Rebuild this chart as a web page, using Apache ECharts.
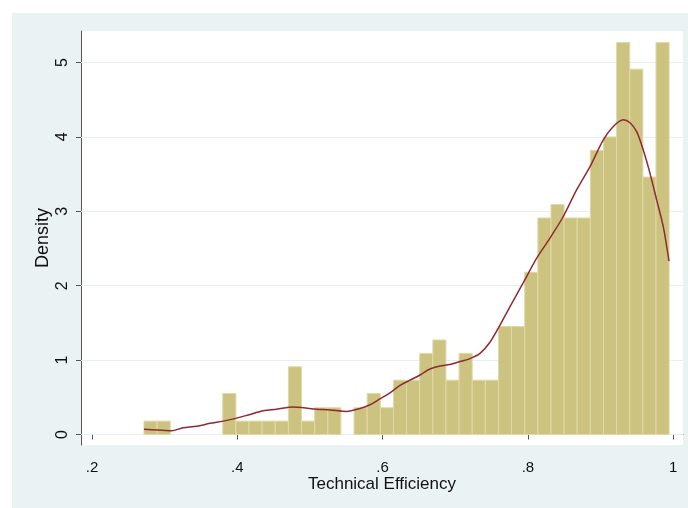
<!DOCTYPE html>
<html>
<head>
    <meta charset="utf-8" />
    <title>Technical Efficiency histogram</title>
    <script src="https://cdn.jsdelivr.net/npm/echarts@6/dist/echarts.min.js"></script>
    <style>
        body { margin: 0; background: #fff; }
    </style>
</head>
<body>
<div id="main" style="width: 688px;height:508px;"></div>
<script type="text/javascript">
    // histogram: 40 bins starting at binStart, density per bin
    var binStart = 0.2716;
    var binWidth = 0.01807;
    var binDensity = [
        0.18, 0.18, 0, 0, 0, 0, 0.55, 0.18, 0.18, 0.18,
        0.18, 0.91, 0.18, 0.36, 0.36, 0, 0.36, 0.55, 0.36, 0.73,
        0.73, 1.09, 1.27, 0.73, 1.09, 0.73, 0.73, 1.45, 1.45, 2.18,
        2.91, 3.09, 2.91, 2.91, 3.82, 4.00, 5.27, 4.91, 3.46, 5.27
    ];
    // kernel density curve
    var kdeX = [
        0.2716, 0.2908, 0.3097, 0.3253, 0.3441, 0.3624, 0.3803, 0.3992, 0.4175, 0.4358,
        0.4542, 0.4771, 0.4909, 0.5093, 0.5276, 0.5506, 0.5689, 0.5827, 0.5964, 0.6102,
        0.6240, 0.6377, 0.6515, 0.6652, 0.6790, 0.6928, 0.7065, 0.7203, 0.7341, 0.7478,
        0.7616, 0.7754, 0.7937, 0.8121, 0.8304, 0.8487, 0.8672, 0.8855, 0.9038, 0.9176,
        0.9313, 0.9405, 0.9497, 0.9589, 0.9681, 0.9773, 0.9864, 0.9942
    ];
    var kdeY = [
        0.07, 0.06, 0.05, 0.09, 0.11, 0.15, 0.18, 0.22, 0.27, 0.32,
        0.34, 0.37, 0.36, 0.34, 0.33, 0.31, 0.35, 0.40, 0.48, 0.56,
        0.66, 0.73, 0.80, 0.88, 0.92, 0.94, 0.98, 1.02, 1.09, 1.24,
        1.47, 1.72, 2.04, 2.37, 2.64, 2.93, 3.29, 3.60, 3.96, 4.14,
        4.23, 4.19, 4.07, 3.82, 3.51, 3.15, 2.79, 2.33
    ];
    var xTicks = [0.2, 0.4, 0.6, 0.8, 1];
    var yTicks = [0, 1, 2, 3, 4, 5];

    var barData = [];
    for (var i = 0; i < binDensity.length; i++) {
        if (binDensity[i] > 0) {
            barData.push([binStart + i * binWidth, binStart + (i + 1) * binWidth, binDensity[i]]);
        }
    }
    var lineData = [];
    for (var j = 0; j < kdeX.length; j++) {
        lineData.push([kdeX[j], kdeY[j]]);
    }
    var gridLines = [];
    for (var k = 0; k < yTicks.length; k++) {
        gridLines.push({ yAxis: yTicks[k] });
    }

    var font = 'Liberation Sans, Arial, sans-serif';
    var axisColor = '#555';

    var myChart = echarts.init(document.getElementById('main'));
    var option = {
        backgroundColor: '#fff',
        animation: false,
        textStyle: { fontFamily: font },
        graphic: [{
            type: 'rect',
            z: -10,
            shape: { x: 12, y: 13, width: 676, height: 495 },
            style: { fill: '#eaf2f3' }
        }],
        grid: {
            left: 81, top: 31, right: 5, bottom: 63,
            show: true,
            backgroundColor: '#fff',
            borderWidth: 0
        },
        xAxis: {
            type: 'value',
            min: 0.1849,
            max: 1.0135,
            name: 'Technical Efficiency',
            nameLocation: 'middle',
            nameGap: 31,
            nameMoveOverlap: false,
            nameTextStyle: { fontSize: 17, color: '#111', fontFamily: font },
            axisLine: { lineStyle: { color: axisColor, width: 1 } },
            axisTick: { length: 5, customValues: xTicks, lineStyle: { color: axisColor } },
            axisLabel: {
                customValues: xTicks,
                fontSize: 15,
                color: '#111',
                margin: 15,
                formatter: function (v) { return String(+v.toFixed(1)).replace(/^0\./, '.'); }
            },
            splitLine: { show: false }
        },
        yAxis: {
            type: 'value',
            min: -0.141,
            max: 5.423,
            name: 'Density',
            nameLocation: 'middle',
            nameGap: 29,
            nameMoveOverlap: false,
            nameTextStyle: { fontSize: 18, color: '#111', fontFamily: font },
            axisLine: { show: true, lineStyle: { color: axisColor, width: 1 } },
            axisTick: { show: true, length: 5, customValues: yTicks, lineStyle: { color: axisColor } },
            axisLabel: {
                customValues: yTicks,
                rotate: 90,
                fontSize: 16,
                color: '#111',
                margin: 10
            },
            splitLine: { show: false }
        },
        series: [
            {
                type: 'custom',
                name: 'hist',
                data: barData,
                z: 2,
                renderItem: function (params, api) {
                    var p0 = api.coord([api.value(0), api.value(2)]);
                    var p1 = api.coord([api.value(1), 0]);
                    return {
                        type: 'rect',
                        shape: { x: p0[0], y: p0[1], width: p1[0] - p0[0], height: p1[1] - p0[1] },
                        style: { fill: '#cbc37f', stroke: '#e0d9a8', lineWidth: 1 }
                    };
                }
            },
            {
                type: 'line',
                name: 'kdensity',
                data: lineData,
                smooth: 0.3,
                showSymbol: false,
                z: 3,
                lineStyle: { color: '#8f2a35', width: 1.5 },
                markLine: {
                    silent: true,
                    symbol: ['none', 'none'],
                    label: { show: false },
                    z: 1,
                    lineStyle: { color: '#e6eef2', width: 1, type: 'solid' },
                    data: gridLines
                }
            }
        ]
    };
    myChart.setOption(option);
</script>
</body>
</html>
